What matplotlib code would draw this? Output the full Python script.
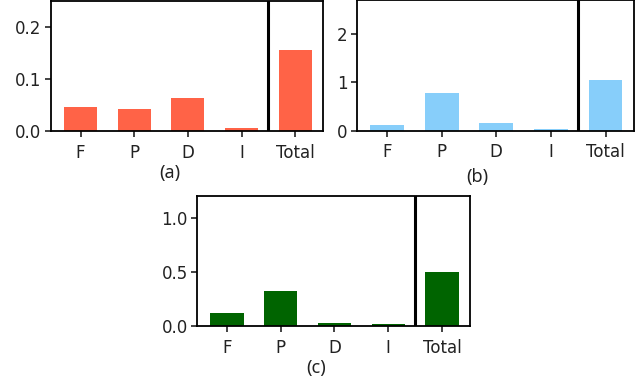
import matplotlib.pyplot as plt

categories = ["F", "P", "D", "I", "Total"]
values_a = [0.046, 0.042, 0.0635, 0.006, 0.156]
values_b = [0.12, 0.78, 0.158, 0.025, 1.06]
values_c = [0.12, 0.325, 0.035, 0.018, 0.50]

panels = [
    # values, colour, ylim, yticks, tick labels, axes rect, label, label pos
    (values_a, "#FF6347", 0.25, [0.0, 0.1, 0.2], ["0.0", "0.1", "0.2"],
     [0.0796, 0.656, 0.4244, 0.342], "(a)", (170, 173)),
    (values_b, "#87CEFA", 2.7, [0, 1, 2], ["0", "1", "2"],
     [0.557, 0.657, 0.432, 0.342], "(b)", (477, 177)),
    (values_c, "#006400", 1.21, [0.0, 0.5, 1.0], ["0.0", "0.5", "1.0"],
     [0.308, 0.1436, 0.425, 0.3428], "(c)", (316, 368)),
]

fig = plt.figure(figsize=(6.41, 3.81), dpi=100)

for vals, color, ymax, yt, ytl, rect, label, pos in panels:
    ax = fig.add_axes(rect)
    ax.bar(range(len(categories)), vals, width=0.62, color=color, linewidth=0)
    ax.set_xlim(-0.55, 4.52)
    ax.set_ylim(0, ymax)
    ax.set_yticks(yt)
    ax.set_yticklabels(ytl)
    ax.set_xticks(range(len(categories)))
    ax.set_xticklabels(categories)
    ax.axvline(3.5, color="black", linewidth=2.2)
    for s in ax.spines.values():
        s.set_linewidth(1.3)
        s.set_color("black")
    ax.tick_params(direction="out", length=4, width=1.2, labelsize=12,
                   colors="#222222", pad=3)
    ax.tick_params(axis="x", pad=5)
    fig.text(pos[0] / 641, 1 - pos[1] / 381, label, ha="center", va="center",
             fontsize=13, family="Noto Sans", color="#222222")

fig.savefig("out.png", dpi=100)
